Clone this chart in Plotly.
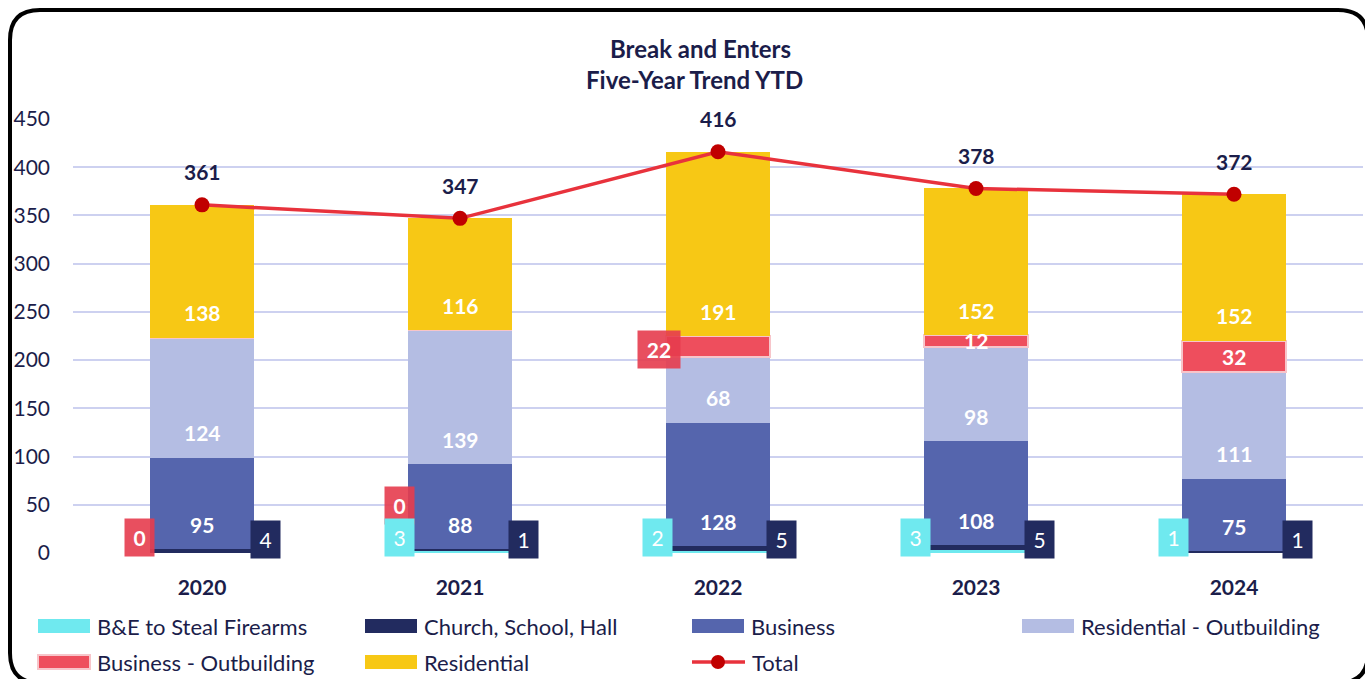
import plotly.graph_objects as go

# ---------------- data ----------------
years = ["2020", "2021", "2022", "2023", "2024"]
be_firearms = [0, 3, 2, 3, 1]
church_school_hall = [4, 1, 5, 5, 1]
business = [95, 88, 128, 108, 75]
residential_outbuilding = [124, 139, 68, 98, 111]
business_outbuilding = [0, 0, 22, 12, 32]
residential = [138, 116, 191, 152, 152]
totals = [361, 347, 416, 378, 372]
y_ticks = [0, 50, 100, 150, 200, 250, 300, 350, 400, 450]

# ---------------- styles ----------------
W, H = 1365, 679
ML, MR, MT, MB = 73, 2, 119, 126
PW, PH = W - ML - MR, H - MT - MB
NAVY = "#1B1D4A"
FONT = "Lato"
C_BE = "#6FE9EF"
C_CH = "#222B5F"
C_BUS = "#5565AD"
C_RO = "#B4BDE3"
C_BO = "#EE4E5D"
C_RES = "#F7C815"
C_LINE = "#E8323C"
C_MARK = "#C00000"
GRID = "#CDD1F0"

xpos = list(range(len(years)))


def px(x):
    return (x - ML) / PW


def py(y):
    return (H - MB - y) / PH


series = [
    ("B&E to Steal Firearms", be_firearms, C_BE, None),
    ("Church, School, Hall", church_school_hall, C_CH, None),
    ("Business", business, C_BUS, None),
    ("Residential - Outbuilding", residential_outbuilding, C_RO, None),
    ("Business - Outbuilding", business_outbuilding, C_BO, "#F7C5CA"),
    ("Residential", residential, C_RES, None),
]

fig = go.Figure()
for name, vals, col, lc in series:
    fig.add_trace(go.Bar(
        x=xpos, y=vals, name=name, width=0.403,
        marker=dict(color=col, line=dict(color=lc if lc else col, width=2 if lc else 0)),
        showlegend=False,
    ))

fig.add_trace(go.Scatter(
    x=xpos, y=totals, mode="lines+markers", name="Total",
    line=dict(color=C_LINE, width=3.5),
    marker=dict(color=C_MARK, size=15),
    showlegend=False,
))

ann = []
bases = []
acc = [0] * len(years)
for _, vals, _, _ in series:
    bases.append(list(acc))
    acc = [a + v for a, v in zip(acc, vals)]

LBL = 21
# in-bar labels at the base of segments (Business, Res-Outbuilding, Residential)
for si in (2, 3, 5):
    vals = series[si][1]
    for i in xpos:
        ann.append(dict(x=i, y=bases[si][i], yshift=25, text=f"<b>{vals[i]}</b>",
                        showarrow=False, font=dict(family=FONT, size=LBL, color="white"),
                        xanchor="center", yanchor="middle"))

# Business - Outbuilding labels
bo_mode = ["box_low", "box_mid", "box_seg", "inside", "inside"]
for i in xpos:
    v = business_outbuilding[i]
    mid = bases[4][i] + v / 2
    m = bo_mode[i]
    if m == "inside":
        ann.append(dict(x=i, y=mid, text=f"<b>{v}</b>", showarrow=False,
                        font=dict(family=FONT, size=LBL, color="white"),
                        xanchor="center", yanchor="middle"))
    else:
        if m == "box_low":
            yy, ys, xs, w = 0, 16, -63, 29
        elif m == "box_mid":
            yy, ys, xs, w = 0, 48, -61, 29
        else:
            yy, ys, xs, w = mid, -3, -59, 42
        ann.append(dict(x=i, y=yy, yshift=ys, xshift=xs, text=f"<b>{v}</b>", showarrow=False,
                        font=dict(family=FONT, size=LBL, color="white"),
                        bgcolor="rgba(230,60,78,0.9)", width=w, height=37, borderpad=0,
                        xanchor="center", yanchor="middle"))

# B&E boxes (left) and Church boxes (right)
for i in xpos:
    if be_firearms[i] > 0:
        ann.append(dict(x=i, y=0, yshift=16, xshift=-61, text=str(be_firearms[i]), showarrow=False,
                        font=dict(family=FONT, size=LBL, color="white"),
                        bgcolor=C_BE, width=29, height=37, borderpad=0,
                        xanchor="center", yanchor="middle"))
    ann.append(dict(x=i, y=0, yshift=14, xshift=63, text=str(church_school_hall[i]), showarrow=False,
                    font=dict(family=FONT, size=LBL, color="white"),
                    bgcolor=C_CH, width=29, height=37, borderpad=0,
                    xanchor="center", yanchor="middle"))

# totals labels
for i in xpos:
    ann.append(dict(x=i, y=totals[i], yshift=33, text=f"<b>{totals[i]}</b>", showarrow=False,
                    font=dict(family=FONT, size=LBL, color=NAVY),
                    xanchor="center", yanchor="middle"))

# title
ann.append(dict(xref="paper", yref="paper", x=px(700), y=py(48), text="<b>Break and Enters</b>",
                showarrow=False, font=dict(family=FONT, size=24, color=NAVY),
                xanchor="center", yanchor="middle"))
ann.append(dict(xref="paper", yref="paper", x=px(694), y=py(80), text="<b>Five-Year Trend YTD</b>",
                showarrow=False, font=dict(family=FONT, size=24, color=NAVY),
                xanchor="center", yanchor="middle"))

shapes = []
legend_items = [
    ("B&E to Steal Firearms", C_BE, None, 38, 626),
    ("Church, School, Hall", C_CH, None, 365, 626),
    ("Business", C_BUS, None, 692, 626),
    ("Residential - Outbuilding", C_RO, None, 1022, 626),
    ("Business - Outbuilding", C_BO, "#F7C5CA", 38, 662),
    ("Residential", C_RES, None, 365, 662),
]
for name, col, lc, x0, yc in legend_items:
    shapes.append(dict(type="rect", xref="paper", yref="paper",
                       x0=px(x0), x1=px(x0 + 52), y0=py(yc - 7), y1=py(yc + 7),
                       fillcolor=col, line=dict(color=lc if lc else col, width=2 if lc else 0)))
    ann.append(dict(xref="paper", yref="paper", x=px(x0 + 57), y=py(yc), text=name,
                    showarrow=False, font=dict(family=FONT, size=22, color=NAVY),
                    xanchor="left", yanchor="middle"))
shapes.append(dict(type="line", xref="paper", yref="paper", x0=px(692), x1=px(745),
                   y0=py(662), y1=py(662), line=dict(color=C_LINE, width=3.5)))
shapes.append(dict(type="circle", xref="paper", yref="paper", x0=px(711), x1=px(725),
                   y0=py(669), y1=py(655), fillcolor=C_MARK, line=dict(color=C_MARK, width=0)))
ann.append(dict(xref="paper", yref="paper", x=px(750), y=py(662), text="Total",
                showarrow=False, font=dict(family=FONT, size=22, color=NAVY),
                xanchor="left", yanchor="middle"))

# rounded frame
x0, y0, x1, y1, r = 10, 10, 1368, 683, 30
path = (f"M {px(x0 + r)},{py(y0)} L {px(x1 - r)},{py(y0)} Q {px(x1)},{py(y0)} {px(x1)},{py(y0 + r)} "
        f"L {px(x1)},{py(y1 - r)} Q {px(x1)},{py(y1)} {px(x1 - r)},{py(y1)} "
        f"L {px(x0 + r)},{py(y1)} Q {px(x0)},{py(y1)} {px(x0)},{py(y1 - r)} "
        f"L {px(x0)},{py(y0 + r)} Q {px(x0)},{py(y0)} {px(x0 + r)},{py(y0)} Z")
shapes.append(dict(type="path", xref="paper", yref="paper", path=path,
                   line=dict(color="black", width=4), layer="above"))

fig.update_layout(
    width=W, height=H,
    margin=dict(l=ML, r=MR, t=MT, b=MB),
    barmode="stack", bargap=0,
    paper_bgcolor="white", plot_bgcolor="white",
    font=dict(family=FONT, color=NAVY),
    annotations=ann, shapes=shapes,
    xaxis=dict(range=[-0.5, len(years) - 0.5], tickvals=xpos,
               ticktext=[f"<b>{y}</b>" for y in years],
               showgrid=False, zeroline=False, showline=False,
               tickfont=dict(family=FONT, size=21, color=NAVY), ticklabelstandoff=20),
    yaxis=dict(range=[0, 450], tickvals=y_ticks, showgrid=True, gridcolor=GRID, gridwidth=2,
               zeroline=False, showline=False,
               tickfont=dict(family=FONT, size=21, color=NAVY), ticklabelstandoff=22),
)

fig.write_html("out.html", config={"displayModeBar": False},
               post_script="document.body.style.margin='0';document.body.style.overflow='hidden';")
